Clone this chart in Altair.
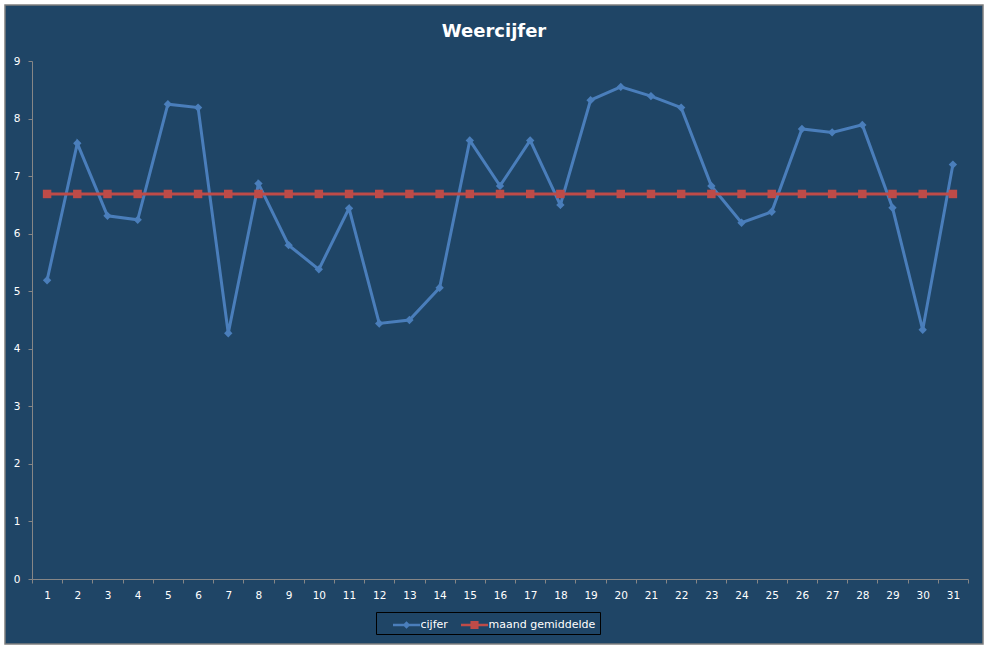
import altair as alt
import pandas as pd

days = list(range(1, 32))
cijfer = [5.19, 7.57, 6.31, 6.24, 8.25, 8.19, 4.27, 6.87, 5.80, 5.38,
          6.44, 4.44, 4.50, 5.06, 7.62, 6.83, 7.62, 6.50, 8.32, 8.55,
          8.39, 8.19, 6.83, 6.19, 6.38, 7.82, 7.76, 7.89, 6.45, 4.33, 7.20]
gemiddelde = [6.69] * 31
series_names = ["cijfer", "maand gemiddelde"]
y_ticks = [0, 1, 2, 3, 4, 5, 6, 7, 8, 9]
x_tick_values = [d - 0.5 for d in days] + [31.5]

BG = "#1F4566"
BLUE = "#4A7EBB"
RED = "#BE4B48"
AXIS = "#868686"
FONT = "DejaVu Sans"
NBSP3 = "\u00a0\u00a0\u00a0"

df = pd.DataFrame({
    "dag": days * 2,
    "serie": [series_names[0]] * 31 + [series_names[1]] * 31,
    "waarde": cijfer + gemiddelde,
})

W, H = 936, 518

x_enc = alt.X("dag:Q",
              scale=alt.Scale(domain=[0.5, 31.5], nice=False, zero=False),
              axis=alt.Axis(values=x_tick_values, title=None, grid=False, zindex=1,
                            labelExpr="datum.value < 31 ? format(datum.value + 0.5, 'd') : ''",
                            labelOffset=15.1, labelOverlap=False, labelFlush=False,
                            labelBound=False,
                            tickSize=4, labelPadding=7, domainColor=AXIS, tickColor=AXIS,
                            labelColor="white", labelFont=FONT, labelFontSize=10.5))
y_axis = alt.Axis(values=y_ticks, title=None, grid=False, tickSize=4, zindex=1,
                  labelPadding=8, domainColor=AXIS, tickColor=AXIS,
                  labelColor="white", labelFont=FONT, labelFontSize=10.5)
y_scale = alt.Scale(domain=[0, 9], nice=False)
y_enc = alt.Y("waarde:Q", scale=y_scale, axis=y_axis)

color_scale = alt.Scale(domain=series_names, range=[BLUE, RED])

frame = alt.Chart(pd.DataFrame({"k": [0]})).mark_rect(
    fill=BG, stroke="#7F7F7F", strokeWidth=1.5
).encode(x=alt.value(-27), x2=alt.value(951), y=alt.value(-56), y2=alt.value(583))


def series_layers(name, color, shape, size):
    base = alt.Chart(df).transform_filter(alt.datum.serie == name)
    ln = base.mark_line(strokeWidth=3, color=color).encode(x=x_enc, y=y_enc)
    pt = base.mark_point(shape=shape, filled=True, size=size, color=color, opacity=1).encode(
        x=x_enc, y=y_enc)
    return [ln, pt]


# unit = 9 px (symbolSize 324 -> radius 9)
legend_paths = [
    "M-1.5,-0.14H1.5V0.14H-1.5Z M0,-0.42L0.42,0L0,0.42L-0.42,0Z",
    "M-1.5,-0.14H1.5V0.14H-1.5Z M-0.45,-0.45H0.45V0.45H-0.45Z",
]

# legend carrier: drawn outside the plot area and clipped away, only its legend shows
legend_layer = alt.Chart(df).transform_calculate(buiten="-1").mark_point(
    filled=True, size=1, clip=True, opacity=1
).encode(
    x=x_enc,
    y=alt.Y("buiten:Q", scale=y_scale, axis=y_axis),
    color=alt.Color("serie:N", scale=color_scale,
                    legend=alt.Legend(title=None, orient="none", legendX=344, legendY=551,
                                      direction="horizontal", symbolSize=324, zindex=1,
                                      symbolOffset=17.5, symbolStrokeWidth=0,
                                      labelColor="white", labelFont=FONT, labelFontSize=11,
                                      labelExpr="datum.label == 'cijfer' ? datum.label : datum.label + '" + NBSP3 + "'",
                                      strokeColor="black", fillColor=BG, padding=4,
                                      columnPadding=0, labelOffset=5)),
    shape=alt.Shape("serie:N", scale=alt.Scale(domain=series_names, range=legend_paths)),
)

layers = [frame] + series_layers("cijfer", BLUE, "diamond", 70) \
    + series_layers("maand gemiddelde", RED, "square", 72) + [legend_layer]

chart = alt.layer(*layers).properties(
    width=W, height=H,
    title=alt.Title("Weercijfer", color="white", font=FONT, fontSize=18, fontWeight="bold",
                    anchor="middle", offset=-37, dx=-6, zindex=1),
    background="white",
    padding={"left": 32, "top": 61, "right": 19, "bottom": 69},
    autosize=alt.AutoSizeParams(type="none"),
).configure_view(stroke=None)

chart.save("out.html", embed_options={"renderer": "svg", "actions": False})
